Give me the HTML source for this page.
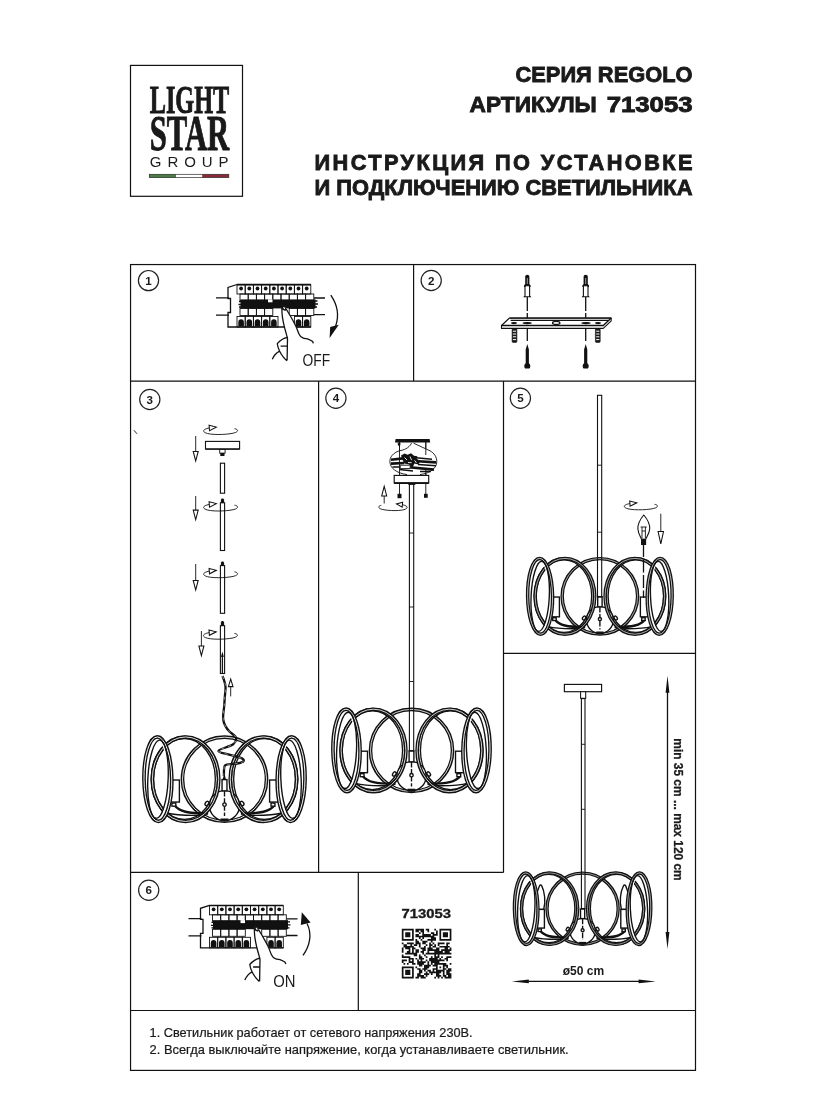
<!DOCTYPE html>
<html lang="ru"><head><meta charset="utf-8"><title>Lightstar Regolo 713053</title>
<style>
html,body{margin:0;padding:0;background:#fff}
svg{display:block}
text{font-family:"Liberation Sans",sans-serif;fill:#1a1a1a;filter:grayscale(1)}
.b{font-weight:bold}
.ln{fill:none;stroke:#111;stroke-width:1.3}
.th{fill:none;stroke:#111;stroke-width:0.9}
.fr{fill:none;stroke:#111;stroke-width:1.2}
.k{fill:#111;stroke:none}
.w{fill:#fff;stroke:#111;stroke-width:1}
</style></head><body>
<svg width="826" height="1100" viewBox="0 0 826 1100">
<rect width="826" height="1100" fill="#fff"/>

<g id="logo">
<rect x="130.5" y="65.4" width="112" height="130.9" fill="#fff" stroke="#111" stroke-width="1.2"/>
<text x="149.7" y="113.2" class="b" style="font-family:'Liberation Serif',serif" font-size="40.8" textLength="79.6" lengthAdjust="spacingAndGlyphs" fill="#111" stroke="#111" stroke-width="0.9">LIGHT</text>
<text x="149.7" y="150.3" class="b" style="font-family:'Liberation Serif',serif" font-size="50.4" textLength="79.6" lengthAdjust="spacingAndGlyphs" fill="#111" stroke="#111" stroke-width="0.9">STAR</text>
<text x="149.8" y="167.2" font-size="15" textLength="78.8" lengthAdjust="spacing" fill="#222">GROUP</text>
<rect x="149.3" y="174.3" width="26.7" height="3.3" fill="#4a7c46"/>
<rect x="176" y="174.3" width="26.2" height="3.3" fill="#fff"/>
<rect x="202.2" y="174.3" width="26.6" height="3.3" fill="#8a2a38"/>
<rect x="149.3" y="174.3" width="79.5" height="3.3" fill="none" stroke="#2a2a2a" stroke-width="0.7"/>
</g>
<g id="head" class="b" font-size="21.8" text-anchor="end">
<text x="692.5" y="81.5" textLength="177" lengthAdjust="spacingAndGlyphs" stroke="#1a1a1a" stroke-width="0.85">СЕРИЯ REGOLO</text>
<text x="596.8" y="111.5" textLength="127.2" lengthAdjust="spacingAndGlyphs" stroke="#1a1a1a" stroke-width="0.85">АРТИКУЛЫ</text>
<text x="692.5" y="111.5" textLength="85.8" lengthAdjust="spacingAndGlyphs" stroke="#1a1a1a" stroke-width="0.85">713053</text>
<text x="692.5" y="169.6" textLength="378" lengthAdjust="spacing" stroke="#1a1a1a" stroke-width="0.85">ИНСТРУКЦИЯ ПО УСТАНОВКЕ</text>
<text x="692.5" y="195.2" textLength="378" lengthAdjust="spacingAndGlyphs" stroke="#1a1a1a" stroke-width="0.85">И ПОДКЛЮЧЕНИЮ СВЕТИЛЬНИКА</text>
</g>
<g id="frame" class="fr">
<rect x="130.55" y="264.55" width="564.95" height="805.8500000000001"/>
<path d="M130.55 381.1H695.5 M413.6 264.55V381.1 M318.6 381.1V872.4 M503.5 381.1V872.4 M130.55 872.4H503.5 M503.5 653.4H695.5 M358.3 872.4V1010.5 M130.55 1010.5H695.5"/>
</g>
<g id="nums">
<circle cx="148.5" cy="280.6" r="10.1" fill="#fff" stroke="#222" stroke-width="1.2"/>
<text x="148.5" y="284.6" class="b" font-size="11.6" text-anchor="middle">1</text>
<circle cx="431.2" cy="280.5" r="10.1" fill="#fff" stroke="#222" stroke-width="1.2"/>
<text x="431.2" y="284.5" class="b" font-size="11.6" text-anchor="middle">2</text>
<circle cx="149.8" cy="399.5" r="10.1" fill="#fff" stroke="#222" stroke-width="1.2"/>
<text x="149.8" y="403.5" class="b" font-size="11.6" text-anchor="middle">3</text>
<circle cx="335.9" cy="398.3" r="10.1" fill="#fff" stroke="#222" stroke-width="1.2"/>
<text x="335.9" y="402.3" class="b" font-size="11.6" text-anchor="middle">4</text>
<circle cx="520.4" cy="398.3" r="10.1" fill="#fff" stroke="#222" stroke-width="1.2"/>
<text x="520.4" y="402.3" class="b" font-size="11.6" text-anchor="middle">5</text>
<circle cx="148.7" cy="890.3" r="10.1" fill="#fff" stroke="#222" stroke-width="1.2"/>
<text x="148.7" y="894.3" class="b" font-size="11.6" text-anchor="middle">6</text>
</g>
<g id="p1">
<g transform="translate(228,284.5)">
<path class="ln" d="M-12 13.3H1 M-12 30.6H1" stroke-width="1.4"/><path class="ln" d="M86 13.5H97 M86 30.2H97" stroke-width="1.9"/>
<path class="ln" d="M9 0H83 M83 42.5H0V28H2.5V14H0V3L9 0"/>
<rect class="th" x="9.0" y="0.5" width="8.2" height="9"/>
<circle class="k" cx="13.1" cy="4.0" r="1.9"/>
<rect class="th" x="17.2" y="0.5" width="8.2" height="9"/>
<circle class="k" cx="21.3" cy="4.0" r="1.9"/>
<rect class="th" x="25.4" y="0.5" width="8.2" height="9"/>
<circle class="k" cx="29.5" cy="4.0" r="1.9"/>
<rect class="th" x="33.6" y="0.5" width="8.2" height="9"/>
<circle class="k" cx="37.7" cy="4.0" r="1.9"/>
<rect class="th" x="41.8" y="0.5" width="8.2" height="9"/>
<circle class="k" cx="45.9" cy="4.0" r="1.9"/>
<rect class="th" x="50.0" y="0.5" width="8.2" height="9"/>
<circle class="k" cx="54.1" cy="4.0" r="1.9"/>
<rect class="th" x="58.2" y="0.5" width="8.2" height="9"/>
<circle class="k" cx="62.3" cy="4.0" r="1.9"/>
<rect class="th" x="66.4" y="0.5" width="8.2" height="9"/>
<circle class="k" cx="70.5" cy="4.0" r="1.9"/>
<rect class="th" x="74.6" y="0.5" width="8.2" height="9"/>
<circle class="k" cx="78.7" cy="4.0" r="1.9"/>
<rect class="th" x="12.0" y="9.5" width="8.2" height="6.5"/>
<rect class="th" x="20.2" y="9.5" width="8.2" height="6.5"/>
<rect class="th" x="28.4" y="9.5" width="8.2" height="6.5"/>
<rect class="th" x="36.6" y="9.5" width="8.2" height="6.5"/>
<rect class="th" x="44.8" y="9.5" width="8.2" height="6.5"/>
<rect class="th" x="53.0" y="9.5" width="8.2" height="6.5"/>
<rect class="th" x="61.2" y="9.5" width="8.2" height="6.5"/>
<rect class="th" x="69.4" y="9.5" width="8.2" height="6.5"/>
<rect class="th" x="77.6" y="9.5" width="8.2" height="6.5"/>
<rect class="k" x="12.5" y="14.9" width="75" height="9"/>
<path class="ln" stroke-width="1" d="M11 17H14 M10.5 20H14 M11 22.5H14 M86 16.5H89.5 M86 19.5H90 M86 22.5H89"/>
<rect class="th" x="12.0" y="24" width="8.2" height="7"/>
<rect class="th" x="20.2" y="24" width="8.2" height="7"/>
<rect class="th" x="28.4" y="24" width="8.2" height="7"/>
<rect class="th" x="36.6" y="24" width="8.2" height="7"/>
<rect class="th" x="61.2" y="24" width="8.2" height="7"/>
<rect class="th" x="69.4" y="24" width="8.2" height="7"/>
<rect class="th" x="77.6" y="24" width="8.2" height="7"/>
<rect class="th" x="9.0" y="32" width="8.2" height="10.5"/>
<path class="k" d="M10.3 42V38a2.8 3.2 0 0 1 5.6 0V42z"/>
<rect class="th" x="17.2" y="32" width="8.2" height="10.5"/>
<path class="k" d="M18.5 42V38a2.8 3.2 0 0 1 5.6 0V42z"/>
<rect class="th" x="25.4" y="32" width="8.2" height="10.5"/>
<path class="k" d="M26.7 42V38a2.8 3.2 0 0 1 5.6 0V42z"/>
<rect class="th" x="33.6" y="32" width="8.2" height="10.5"/>
<path class="k" d="M34.9 42V38a2.8 3.2 0 0 1 5.6 0V42z"/>
<rect class="th" x="41.8" y="32" width="8.2" height="10.5"/>
<path class="k" d="M43.1 42V38a2.8 3.2 0 0 1 5.6 0V42z"/>
<rect class="th" x="66.4" y="32" width="8.2" height="10.5"/>
<path class="k" d="M67.7 42V38a2.8 3.2 0 0 1 5.6 0V42z"/>
<rect class="th" x="74.6" y="32" width="8.2" height="10.5"/>
<path class="k" d="M75.9 42V38a2.8 3.2 0 0 1 5.6 0V42z"/>
<rect x="40" y="14.8" width="4.5" height="3" fill="#fff"/>
<path d="M55.2 21.2 C56.8 21.6 57.6 23 58.2 24.5 L62.4 31.5 L67.5 41 L71.1 49.7 L74.8 53.3 L80.6 54.8 L84.6 57 L85.3 58.8 L59.3 60 L59.5 54 L56.2 41.7 L54.4 32.3 L53.9 23 C53.9 21.6 54.4 21 55.2 21.2z" fill="#fff" stroke="none"/>
<path class="ln" stroke-width="1.15" stroke-linejoin="round" d="M58.2 24.5 C59.5 27 61 29.2 62.4 31.5 C64.2 34.6 66 37.8 67.5 41 C69 44 69.8 47.2 71.1 49.7 C72 51.6 73 52.6 74.8 53.3 C76.6 54 78.8 54.2 80.6 54.8 C82.2 55.4 83.6 56 84.6 57 C85 57.5 85.2 58.2 85.3 58.9 M53.9 23 C53.8 26 54 29.4 54.4 32.3 C54.9 35.6 55.5 38.8 56.2 41.7 C57 45 58 48.2 58.8 51.2 C59.2 52.4 59.4 53.4 59.5 54.2 L59.1 75.9 M59.5 52.8 C57.6 53.2 56 53.8 54.4 54.8 C52.4 56 50.6 57.6 49.3 59.2 C49.6 61.8 50.4 64.2 51.5 66.5 C52.6 68.7 53.8 70.6 55.2 72.3 C56.3 73.7 57.5 75 58.9 76.2 M52.6 61.7 H58.8 M51.2 66.8 C49.6 67.6 48.2 68.8 47.2 70 C46 71.4 45 73 44.3 74.8"/>
<path class="k" d="M53.6 20.6l2.6 0.4 2.4 3.6-1.2 1.8-3.6-1.4z"/>
<ellipse cx="56.2" cy="23.6" rx="0.7" ry="1.3" transform="rotate(-35 56.2 23.6)" fill="#fff"/>
</g>
<path class="ln" stroke-width="1.25" d="M330.8 295.2 C336.8 304 339.6 315 335.6 326.2"/>
<path class="k" d="M329.6 338 L330.2 327 L338.8 324.8z"/>
<text x="302.5" y="365.7" font-size="15.8" textLength="27.6" lengthAdjust="spacingAndGlyphs">OFF</text>
</g>
<g id="p6">
<g transform="translate(200.5,905.3)">
<path class="ln" d="M-12 13.3H1 M-12 30.6H1" stroke-width="1.4"/><path class="ln" d="M86 13.5H97 M86 30.2H97" stroke-width="1.9"/>
<path class="ln" d="M9 0H83 M83 42.5H0V28H2.5V14H0V3L9 0"/>
<rect class="th" x="9.0" y="0.5" width="8.2" height="9"/>
<circle class="k" cx="13.1" cy="4.0" r="1.9"/>
<rect class="th" x="17.2" y="0.5" width="8.2" height="9"/>
<circle class="k" cx="21.3" cy="4.0" r="1.9"/>
<rect class="th" x="25.4" y="0.5" width="8.2" height="9"/>
<circle class="k" cx="29.5" cy="4.0" r="1.9"/>
<rect class="th" x="33.6" y="0.5" width="8.2" height="9"/>
<circle class="k" cx="37.7" cy="4.0" r="1.9"/>
<rect class="th" x="41.8" y="0.5" width="8.2" height="9"/>
<circle class="k" cx="45.9" cy="4.0" r="1.9"/>
<rect class="th" x="50.0" y="0.5" width="8.2" height="9"/>
<circle class="k" cx="54.1" cy="4.0" r="1.9"/>
<rect class="th" x="58.2" y="0.5" width="8.2" height="9"/>
<circle class="k" cx="62.3" cy="4.0" r="1.9"/>
<rect class="th" x="66.4" y="0.5" width="8.2" height="9"/>
<circle class="k" cx="70.5" cy="4.0" r="1.9"/>
<rect class="th" x="74.6" y="0.5" width="8.2" height="9"/>
<circle class="k" cx="78.7" cy="4.0" r="1.9"/>
<rect class="th" x="12.0" y="9.5" width="8.2" height="6.5"/>
<rect class="th" x="20.2" y="9.5" width="8.2" height="6.5"/>
<rect class="th" x="28.4" y="9.5" width="8.2" height="6.5"/>
<rect class="th" x="36.6" y="9.5" width="8.2" height="6.5"/>
<rect class="th" x="44.8" y="9.5" width="8.2" height="6.5"/>
<rect class="th" x="53.0" y="9.5" width="8.2" height="6.5"/>
<rect class="th" x="61.2" y="9.5" width="8.2" height="6.5"/>
<rect class="th" x="69.4" y="9.5" width="8.2" height="6.5"/>
<rect class="th" x="77.6" y="9.5" width="8.2" height="6.5"/>
<rect class="k" x="12.5" y="14.9" width="75" height="9"/>
<path class="ln" stroke-width="1" d="M11 17H14 M10.5 20H14 M11 22.5H14 M86 16.5H89.5 M86 19.5H90 M86 22.5H89"/>
<rect class="th" x="12.0" y="24" width="8.2" height="7"/>
<rect class="th" x="20.2" y="24" width="8.2" height="7"/>
<rect class="th" x="28.4" y="24" width="8.2" height="7"/>
<rect class="th" x="36.6" y="24" width="8.2" height="7"/>
<rect class="th" x="61.2" y="24" width="8.2" height="7"/>
<rect class="th" x="69.4" y="24" width="8.2" height="7"/>
<rect class="th" x="77.6" y="24" width="8.2" height="7"/>
<rect class="th" x="9.0" y="32" width="8.2" height="10.5"/>
<path class="k" d="M10.3 42V38a2.8 3.2 0 0 1 5.6 0V42z"/>
<rect class="th" x="17.2" y="32" width="8.2" height="10.5"/>
<path class="k" d="M18.5 42V38a2.8 3.2 0 0 1 5.6 0V42z"/>
<rect class="th" x="25.4" y="32" width="8.2" height="10.5"/>
<path class="k" d="M26.7 42V38a2.8 3.2 0 0 1 5.6 0V42z"/>
<rect class="th" x="33.6" y="32" width="8.2" height="10.5"/>
<path class="k" d="M34.9 42V38a2.8 3.2 0 0 1 5.6 0V42z"/>
<rect class="th" x="41.8" y="32" width="8.2" height="10.5"/>
<path class="k" d="M43.1 42V38a2.8 3.2 0 0 1 5.6 0V42z"/>
<rect class="th" x="66.4" y="32" width="8.2" height="10.5"/>
<path class="k" d="M67.7 42V38a2.8 3.2 0 0 1 5.6 0V42z"/>
<rect class="th" x="74.6" y="32" width="8.2" height="10.5"/>
<path class="k" d="M75.9 42V38a2.8 3.2 0 0 1 5.6 0V42z"/>
<rect x="40" y="14.8" width="4.5" height="3" fill="#fff"/>
<path d="M55.2 21.2 C56.8 21.6 57.6 23 58.2 24.5 L62.4 31.5 L67.5 41 L71.1 49.7 L74.8 53.3 L80.6 54.8 L84.6 57 L85.3 58.8 L59.3 60 L59.5 54 L56.2 41.7 L54.4 32.3 L53.9 23 C53.9 21.6 54.4 21 55.2 21.2z" fill="#fff" stroke="none"/>
<path class="ln" stroke-width="1.15" stroke-linejoin="round" d="M58.2 24.5 C59.5 27 61 29.2 62.4 31.5 C64.2 34.6 66 37.8 67.5 41 C69 44 69.8 47.2 71.1 49.7 C72 51.6 73 52.6 74.8 53.3 C76.6 54 78.8 54.2 80.6 54.8 C82.2 55.4 83.6 56 84.6 57 C85 57.5 85.2 58.2 85.3 58.9 M53.9 23 C53.8 26 54 29.4 54.4 32.3 C54.9 35.6 55.5 38.8 56.2 41.7 C57 45 58 48.2 58.8 51.2 C59.2 52.4 59.4 53.4 59.5 54.2 L59.1 75.9 M59.5 52.8 C57.6 53.2 56 53.8 54.4 54.8 C52.4 56 50.6 57.6 49.3 59.2 C49.6 61.8 50.4 64.2 51.5 66.5 C52.6 68.7 53.8 70.6 55.2 72.3 C56.3 73.7 57.5 75 58.9 76.2 M52.6 61.7 H58.8 M51.2 66.8 C49.6 67.6 48.2 68.8 47.2 70 C46 71.4 45 73 44.3 74.8"/>
<path class="k" d="M53.6 20.6l2.6 0.4 2.4 3.6-1.2 1.8-3.6-1.4z"/>
<ellipse cx="56.2" cy="23.6" rx="0.7" ry="1.3" transform="rotate(-35 56.2 23.6)" fill="#fff"/>
</g>
<path class="ln" stroke-width="1.25" d="M303 955.4 C309.8 946 312.4 934 307 923.5"/>
<path class="k" d="M301.8 912.3 L300.8 925 L310.6 922.4z"/>
<text x="273.3" y="986.8" font-size="15.8" textLength="22.3" lengthAdjust="spacingAndGlyphs">ON</text>
</g>
<g id="p2">
<path class="ln" stroke-width="1.1" stroke-dasharray="14 2" d="M527.3 297V341"/>
<path class="ln" stroke-width="1.1" stroke-dasharray="14 2" d="M585.7 297V341"/>
<path d="M509.5 318H611.2V320.9L603.3 328.4H501.5V325.5z" fill="#fff" stroke="#111" stroke-width="1.1" stroke-linejoin="round"/>
<path class="ln" stroke-width="2" d="M509.8 318.2H611.2"/>
<path class="ln" stroke-width="1" d="M510.6 320.4H608.6 M501.5 325.5H603.3L611.2 318"/>
<ellipse class="k" cx="514" cy="323.1" rx="3.1" ry="1.15"/>
<ellipse class="k" cx="527.2" cy="323.1" rx="4.7" ry="1.15"/>
<ellipse class="k" cx="586" cy="323.1" rx="4.7" ry="1.15"/>
<ellipse class="k" cx="598" cy="323.1" rx="3.1" ry="1.15"/>
<ellipse cx="556.2" cy="322.9" rx="3.7" ry="1.5" fill="#fff" stroke="#111" stroke-width="1.3"/>
<rect x="512.1" y="328.8" width="4.8" height="13.6" rx="1" fill="#1a1a1a" stroke="#111" stroke-width="0.6"/>
<path stroke="#fff" stroke-width="1" fill="none" d="M512.9 331.2h3.2 M512.9 334h3.2 M512.9 336.8h3.2 M512.9 339.6h3.2"/>
<rect x="595.4" y="328.8" width="4.8" height="13.6" rx="1" fill="#1a1a1a" stroke="#111" stroke-width="0.6"/>
<path stroke="#fff" stroke-width="1" fill="none" d="M596.1999999999999 331.2h3.2 M596.1999999999999 334h3.2 M596.1999999999999 336.8h3.2 M596.1999999999999 339.6h3.2"/>
<path d="M525.0 285.8v10l-0.7 0.9h6l-0.7 -0.9v-10z" fill="#fff" stroke="#111" stroke-width="1.1"/>
<path class="k" d="M525.1999999999999 276.4a2.1 1.6 0 0 1 4.2 0v7.6l1.2 1.4v1.6h-1.4v-1.2h-3.8v1.2h-1.4v-1.6l1.2-1.4z"/>
<path stroke="#fff" stroke-width="0.6" fill="none" d="M527.3 278v6"/>
<path class="k" d="M527.3 344L528.9 349.5V363.2C530.5999999999999 364 530.8 367.4 529.5 368.5H525.0999999999999C523.8 367.4 524.0 364 525.6999999999999 363.2V349.5z"/>
<path d="M583.4000000000001 285.8v10l-0.7 0.9h6l-0.7 -0.9v-10z" fill="#fff" stroke="#111" stroke-width="1.1"/>
<path class="k" d="M583.6 276.4a2.1 1.6 0 0 1 4.2 0v7.6l1.2 1.4v1.6h-1.4v-1.2h-3.8v1.2h-1.4v-1.6l1.2-1.4z"/>
<path stroke="#fff" stroke-width="0.6" fill="none" d="M585.7 278v6"/>
<path class="k" d="M585.7 344L587.3000000000001 349.5V363.2C589.0 364 589.2 367.4 587.9000000000001 368.5H583.5C582.2 367.4 582.4000000000001 364 584.1 363.2V349.5z"/>
</g>
<g id="p3">
<path class="th" stroke-width="1.3" d="M133.9 430.2L137 433.8"/>
<g transform="translate(220.5,430.5) scale(1,1)">
<path class="th" stroke-width="1.3" d="M14.0 -1.8 C17.2 -1.4 18.4 0.6 15.0 2.0 C10.0 4.0 -6.0 4.8 -13.0 3.0 C-18.5 1.6 -18.5 -1.2 -11.0 -2.6"/>
<path d="M-11.4 -5.2 L-4.2 -3.4 L-11.0 0.1z" fill="#fff" stroke="#111" stroke-width="1.05"/>
</g>
<rect x="205.5" y="441.4" width="34.1" height="7.6" fill="#fff" stroke="#111" stroke-width="1.1"/>
<path class="ln" stroke-width="1.6" d="M205.5 449.2h34.1"/>
<rect x="219.7" y="449.5" width="5.4" height="3.6" fill="#fff" stroke="#111" stroke-width="0.9"/>
<rect class="k" x="220.3" y="453" width="4.2" height="3"/>
<path class="th" stroke-width="1.1" d="M195.7 436V452.4"/>
<path d="M193.2 451.4h5.0L195.7 461z" fill="#fff" stroke="#111" stroke-width="1.05"/>
<rect x="220.4" y="463.2" width="4.2" height="30.0" fill="#fff" stroke="#111" stroke-width="1.1"/>
<rect x="220.4" y="502.8" width="4.2" height="47.69999999999999" fill="#fff" stroke="#111" stroke-width="1.1"/>
<path class="k" d="M220.9 503v-3.2l0.8-1.4h1.6l0.8 1.4v3.2z"/>
<g transform="translate(220.5,507) scale(1,1)">
<path class="th" stroke-width="1.3" d="M14.0 -1.8 C17.2 -1.4 18.4 0.6 15.0 2.0 C10.0 4.0 -6.0 4.8 -13.0 3.0 C-18.5 1.6 -18.5 -1.2 -11.0 -2.6"/>
<path d="M-11.4 -5.2 L-4.2 -3.4 L-11.0 0.1z" fill="#fff" stroke="#111" stroke-width="1.05"/>
</g>
<path class="th" stroke-width="1.1" d="M195.7 496V511.1"/>
<path d="M193.2 510.1h5.0L195.7 519.7z" fill="#fff" stroke="#111" stroke-width="1.05"/>
<rect x="220.4" y="565.6" width="4.2" height="47.69999999999993" fill="#fff" stroke="#111" stroke-width="1.1"/>
<path class="k" d="M220.9 566v-3.2l0.8-1.4h1.6l0.8 1.4v3.2z"/>
<g transform="translate(220.5,573.7) scale(1,1)">
<path class="th" stroke-width="1.3" d="M14.0 -1.8 C17.2 -1.4 18.4 0.6 15.0 2.0 C10.0 4.0 -6.0 4.8 -13.0 3.0 C-18.5 1.6 -18.5 -1.2 -11.0 -2.6"/>
<path d="M-11.4 -5.2 L-4.2 -3.4 L-11.0 0.1z" fill="#fff" stroke="#111" stroke-width="1.05"/>
</g>
<path class="th" stroke-width="1.1" d="M195.7 564V581.4"/>
<path d="M193.2 580.4h5.0L195.7 590z" fill="#fff" stroke="#111" stroke-width="1.05"/>
<rect x="220.4" y="625.7" width="4.2" height="47.799999999999955" fill="#fff" stroke="#111" stroke-width="1.1"/>
<path class="k" d="M220.9 626v-3.4l0.8-1.6h1.6l0.8 1.6v3.4z"/>
<path class="ln" stroke-width="1.1" d="M222.4 655V673 M221.6 657l0.8-3 0.8 3"/>
<g transform="translate(220.4,635.2) scale(1,1)">
<path class="th" stroke-width="1.3" d="M14.0 -1.8 C17.2 -1.4 18.4 0.6 15.0 2.0 C10.0 4.0 -6.0 4.8 -13.0 3.0 C-18.5 1.6 -18.5 -1.2 -11.0 -2.6"/>
<path d="M-11.4 -5.2 L-4.2 -3.4 L-11.0 0.1z" fill="#fff" stroke="#111" stroke-width="1.05"/>
</g>
<path class="th" stroke-width="1.1" d="M201.4 631V647.0"/>
<path d="M198.9 646.0h5.0L201.4 655.6z" fill="#fff" stroke="#111" stroke-width="1.05"/>
<path class="th" stroke-width="1.1" d="M230.7 696.4V685.6"/>
<path d="M228.39999999999998 686.6h4.6L230.7 679z" fill="#fff" stroke="#111" stroke-width="1.05"/>
<g transform="translate(224.5,779.2) scale(1.025)" fill="none">
<ellipse cx="0" cy="0" rx="41" ry="41" stroke="#111" stroke-width="3.55"/>
<ellipse cx="0" cy="0" rx="41" ry="41" stroke="#fff" stroke-width="0.85"/>
<ellipse cx="-39.1" cy="-0.2" rx="31.3" ry="40.6" stroke="#111" stroke-width="3.55"/>
<ellipse cx="-39.1" cy="-0.2" rx="31.3" ry="40.6" stroke="#fff" stroke-width="0.85"/>
<ellipse cx="39.1" cy="-0.2" rx="31.3" ry="40.6" stroke="#111" stroke-width="3.55"/>
<ellipse cx="39.1" cy="-0.2" rx="31.3" ry="40.6" stroke="#fff" stroke-width="0.85"/>
<g stroke="#111" stroke-width="1.35" fill="#fff">
<circle cx="0" cy="25.8" r="14.6"/>
<rect x="-2.4" y="0.4" width="4.8" height="11"/>
<path d="M0 11.5V36" stroke-dasharray="5.4 1.6" fill="none"/>
<circle cx="0" cy="24.8" r="1.7"/>
<rect x="-3.2" y="39" width="6.4" height="1.6" fill="#111"/>
</g>
<path d="M-48.8 25.5 C-44 31.5 -36 33.6 -16 33.4" stroke="#111" stroke-width="2.34"/>
<path d="M-56 33 C-48 35.2 -38 35.6 -22 35.2" stroke="#111" stroke-width="1.35"/>
<path d="M48.8 25.5 C44 31.5 36 33.6 16 33.4" stroke="#111" stroke-width="2.34"/>
<path d="M56 33 C48 35.2 38 35.6 22 35.2" stroke="#111" stroke-width="1.35"/>
<g stroke="#111" stroke-width="1.35" fill="#fff">
<rect x="-52.7" y="0.8" width="8.7" height="21.5"/>
<rect x="-51.300000000000004" y="23.3" width="3.8" height="3"/>
<rect x="44" y="0.8" width="8.7" height="21.5"/>
<rect x="45.4" y="23.3" width="3.8" height="3"/>
</g>
<ellipse cx="-38" cy="0" rx="32.4" ry="41.2" stroke="#111" stroke-width="3.55"/>
<ellipse cx="-38" cy="0" rx="32.4" ry="41.2" stroke="#fff" stroke-width="0.85"/>
<ellipse cx="-17.2" cy="23.6" rx="1.5" ry="2.3" transform="rotate(35 -17.2 23.6)" fill="#fff" stroke="#111" stroke-width="1.35"/>
<ellipse cx="38" cy="0" rx="32.4" ry="41.2" stroke="#111" stroke-width="3.55"/>
<ellipse cx="38" cy="0" rx="32.4" ry="41.2" stroke="#fff" stroke-width="0.85"/>
<ellipse cx="17.2" cy="23.6" rx="1.5" ry="2.3" transform="rotate(-35 17.2 23.6)" fill="#fff" stroke="#111" stroke-width="1.35"/>
<ellipse cx="-65" cy="0" rx="11.6" ry="39.6" stroke="#fff" stroke-width="4"/>
<ellipse cx="-65" cy="0" rx="13.55" ry="41.2" transform="rotate(-0.8 -65 0)" stroke="#111" stroke-width="3.65"/>
<ellipse cx="-65" cy="0" rx="13.55" ry="41.2" transform="rotate(-0.8 -65 0)" stroke="#fff" stroke-width="0.95"/>
<ellipse cx="-64.9" cy="0" rx="9.9" ry="38.2" transform="rotate(2.6 -64.9 0)" stroke="#111" stroke-width="1.35"/>
<ellipse cx="65" cy="0" rx="11.6" ry="39.6" stroke="#fff" stroke-width="4"/>
<ellipse cx="65" cy="0" rx="13.55" ry="41.2" transform="rotate(0.8 65 0)" stroke="#111" stroke-width="3.65"/>
<ellipse cx="65" cy="0" rx="13.55" ry="41.2" transform="rotate(0.8 65 0)" stroke="#fff" stroke-width="0.95"/>
<ellipse cx="64.9" cy="0" rx="9.9" ry="38.2" transform="rotate(-2.6 64.9 0)" stroke="#111" stroke-width="1.35"/>
</g>
<path d="M222.5 676 C224.5 681 226 685 225.5 689 C225 695 224.5 700 224.3 705 C224 710 222.6 715 223.2 719.5 C224 725 226.5 728.5 229.5 731.5 C232.5 734.5 236.5 736 236.2 739 C236 741.5 235 743 233.2 744.3 C229 747.2 218.5 749 218.4 751 C218.4 752.6 224 753.3 229 754.6 C235 756.2 244 758 243.8 760.5 C243.6 762.2 240.5 763 237.3 763.5 C233 764.2 226.5 763.6 225 765.4 C223.6 767 224 772 223.9 776" fill="none" stroke="#111" stroke-width="2.3" stroke-linejoin="round"/>
<path d="M222.5 676 C224.5 681 226 685 225.5 689 C225 695 224.5 700 224.3 705 C224 710 222.6 715 223.2 719.5 C224 725 226.5 728.5 229.5 731.5 C232.5 734.5 236.5 736 236.2 739 C236 741.5 235 743 233.2 744.3 C229 747.2 218.5 749 218.4 751 C218.4 752.6 224 753.3 229 754.6 C235 756.2 244 758 243.8 760.5 C243.6 762.2 240.5 763 237.3 763.5 C233 764.2 226.5 763.6 225 765.4 C223.6 767 224 772 223.9 776" fill="none" stroke="#fff" stroke-width="0.5" stroke-dasharray="3 4"/>
<path class="k" d="M222.6 779.4l1.7-6 1.7 6z"/>
</g>
<g id="p4">
<g transform="translate(411.5,750.4) scale(1.0)" fill="none">
<ellipse cx="0" cy="0" rx="41" ry="41" stroke="#111" stroke-width="3.58"/>
<ellipse cx="0" cy="0" rx="41" ry="41" stroke="#fff" stroke-width="0.82"/>
<ellipse cx="-39.1" cy="-0.2" rx="31.3" ry="40.6" stroke="#111" stroke-width="3.58"/>
<ellipse cx="-39.1" cy="-0.2" rx="31.3" ry="40.6" stroke="#fff" stroke-width="0.82"/>
<ellipse cx="39.1" cy="-0.2" rx="31.3" ry="40.6" stroke="#111" stroke-width="3.58"/>
<ellipse cx="39.1" cy="-0.2" rx="31.3" ry="40.6" stroke="#fff" stroke-width="0.82"/>
<g stroke="#111" stroke-width="1.38" fill="#fff">
<circle cx="0" cy="25.8" r="14.6"/>
<rect x="-2.4" y="0.4" width="4.8" height="11"/>
<path d="M0 11.5V36" stroke-dasharray="5.5 1.6" fill="none"/>
<circle cx="0" cy="24.8" r="1.7"/>
<rect x="-3.2" y="39" width="6.4" height="1.6" fill="#111"/>
</g>
<path d="M-48.8 25.5 C-44 31.5 -36 33.6 -16 33.4" stroke="#111" stroke-width="2.40"/>
<path d="M-56 33 C-48 35.2 -38 35.6 -22 35.2" stroke="#111" stroke-width="1.38"/>
<path d="M48.8 25.5 C44 31.5 36 33.6 16 33.4" stroke="#111" stroke-width="2.40"/>
<path d="M56 33 C48 35.2 38 35.6 22 35.2" stroke="#111" stroke-width="1.38"/>
<g stroke="#111" stroke-width="1.38" fill="#fff">
<rect x="-52.7" y="0.8" width="8.7" height="21.5"/>
<rect x="-51.300000000000004" y="23.3" width="3.8" height="3"/>
<rect x="44" y="0.8" width="8.7" height="21.5"/>
<rect x="45.4" y="23.3" width="3.8" height="3"/>
</g>
<ellipse cx="-38" cy="0" rx="32.4" ry="41.2" stroke="#111" stroke-width="3.58"/>
<ellipse cx="-38" cy="0" rx="32.4" ry="41.2" stroke="#fff" stroke-width="0.82"/>
<ellipse cx="-17.2" cy="23.6" rx="1.5" ry="2.3" transform="rotate(35 -17.2 23.6)" fill="#fff" stroke="#111" stroke-width="1.38"/>
<ellipse cx="38" cy="0" rx="32.4" ry="41.2" stroke="#111" stroke-width="3.58"/>
<ellipse cx="38" cy="0" rx="32.4" ry="41.2" stroke="#fff" stroke-width="0.82"/>
<ellipse cx="17.2" cy="23.6" rx="1.5" ry="2.3" transform="rotate(-35 17.2 23.6)" fill="#fff" stroke="#111" stroke-width="1.38"/>
<ellipse cx="-65" cy="0" rx="11.6" ry="39.6" stroke="#fff" stroke-width="4"/>
<ellipse cx="-65" cy="0" rx="13.55" ry="41.2" transform="rotate(-0.8 -65 0)" stroke="#111" stroke-width="3.68"/>
<ellipse cx="-65" cy="0" rx="13.55" ry="41.2" transform="rotate(-0.8 -65 0)" stroke="#fff" stroke-width="0.92"/>
<ellipse cx="-64.9" cy="0" rx="9.9" ry="38.2" transform="rotate(2.6 -64.9 0)" stroke="#111" stroke-width="1.38"/>
<ellipse cx="65" cy="0" rx="11.6" ry="39.6" stroke="#fff" stroke-width="4"/>
<ellipse cx="65" cy="0" rx="13.55" ry="41.2" transform="rotate(0.8 65 0)" stroke="#111" stroke-width="3.68"/>
<ellipse cx="65" cy="0" rx="13.55" ry="41.2" transform="rotate(0.8 65 0)" stroke="#fff" stroke-width="0.92"/>
<ellipse cx="64.9" cy="0" rx="9.9" ry="38.2" transform="rotate(-2.6 64.9 0)" stroke="#111" stroke-width="1.38"/>
</g>
<rect x="409.40000000000003" y="483.5" width="4.3" height="267.5" fill="none" stroke="#111" stroke-width="1.1"/>
<path class="th" d="M409.40000000000003 533h4.3"/>
<path class="th" d="M409.40000000000003 607h4.3"/>
<path class="th" d="M409.40000000000003 681.5h4.3"/>
<path class="th" stroke-width="1.1" d="M399.5 442V494 M425.8 442V494"/>
<path d="M399.3 450.8 C393 453 389.6 457 389.9 462 C390.2 468 396 473 407 474.6 L420 474.6 C431 473 436.5 468 436.8 462 C437 457 434 453 430 450.8 L413.6 443.2 L411.6 443.2 C408.5 448.5 404 450 399.3 450.8z" fill="#fff" stroke="none"/>
<path class="th" stroke-width="1.1" d="M399.3 450.8 C393 453 389.6 457 389.9 462 C390.2 468 396 473 407 474.6 M420 474.6 C431 473 436.5 468 436.8 462 C437 457 434 453 430 450.8 L413.6 443.2 M411.6 443.2 C408.5 448.5 404 450 399.3 450.8"/>
<path class="th" stroke-width="1.1" d="M399.5 442V474 M425.8 442V455 M425.8 470V475"/>
<path d="M395.6 439l-0.6 3.6h35.2l-0.6-3.6z" class="k"/>
<rect class="k" x="397.8" y="442.4" width="2.6" height="3.4" rx="1"/>
<path fill="none" stroke="#111" stroke-width="2.6" d="M391 459.8L403 458.4 M391 463.6L404 463 M418 461.2L436 462.4 M404 466.8L434 469.6"/>
<path fill="none" stroke="#111" stroke-width="1.5" d="M392.5 467L401 467 M418 464.6L436 465.8 M399.5 469.5L413 471 M416 457.8L432 459.2 M420 471.6L431 471.6"/>
<path class="k" d="M401 455.6l3.6-2.2 3 1.4 3.4-1.6 3 2.6 3.4 0.4-0.8 2.6 3.8 2.2-2 3.4-4-0.8-2.2 4.6-3-3.8-5 -0.8-1.8-4z"/>
<path d="M404.5 457.5l2.5 2.5 M410 456.5l1.6 3.6 M408 462.5l3.6 0.2 M414.6 460.4l1.8 2.4" stroke="#fff" stroke-width="0.9" fill="none"/>
<path d="M400.2 465.2h10v3.4h-10z" fill="#fff" stroke="#111" stroke-width="0.9"/>
<rect x="394.2" y="475.4" width="34.5" height="7.6" fill="#fff" stroke="#111" stroke-width="1.15"/>
<path d="M394.2 483.2h34.5" stroke="#111" stroke-width="1.8" fill="none"/>
<rect class="k" x="408.3" y="483.4" width="7" height="1.5"/>
<rect class="k" x="397.5" y="493.8" width="4" height="4.4"/><rect class="k" x="424" y="493.8" width="3.7" height="4"/>
<path class="th" stroke-width="1.1" d="M384.2 503.5V494.90000000000003"/>
<path d="M381.7 495.90000000000003h5.0L384.2 486.3z" fill="#fff" stroke="#111" stroke-width="1.05"/>
<g transform="translate(393,507) scale(-1,1)">
<path class="th" stroke-width="1.3" d="M11.7 -1.6 C14.4 -1.3 15.4 0.5 12.6 1.8 C8.4 3.6 -5.0 4.3 -10.9 2.7 C-15.5 1.4 -15.5 -1.1 -9.2 -2.3"/>
<path d="M-9.6 -4.7 L-3.5 -3.1 L-9.2 0.1z" fill="#fff" stroke="#111" stroke-width="1.05"/>
</g>
</g>
<g id="p5">
<g transform="translate(599.9,596.3) scale(0.92)" fill="none">
<ellipse cx="0" cy="0" rx="41" ry="41" stroke="#111" stroke-width="3.70"/>
<ellipse cx="0" cy="0" rx="41" ry="41" stroke="#fff" stroke-width="0.70"/>
<ellipse cx="-39.1" cy="-0.2" rx="31.3" ry="40.6" stroke="#111" stroke-width="3.70"/>
<ellipse cx="-39.1" cy="-0.2" rx="31.3" ry="40.6" stroke="#fff" stroke-width="0.70"/>
<ellipse cx="39.1" cy="-0.2" rx="31.3" ry="40.6" stroke="#111" stroke-width="3.70"/>
<ellipse cx="39.1" cy="-0.2" rx="31.3" ry="40.6" stroke="#fff" stroke-width="0.70"/>
<g stroke="#111" stroke-width="1.50" fill="#fff">
<circle cx="0" cy="25.8" r="14.6"/>
<rect x="-2.4" y="0.4" width="4.8" height="11"/>
<path d="M0 11.5V36" stroke-dasharray="6.0 1.7" fill="none"/>
<circle cx="0" cy="24.8" r="1.7"/>
<rect x="-3.2" y="39" width="6.4" height="1.6" fill="#111"/>
</g>
<path d="M-48.8 25.5 C-44 31.5 -36 33.6 -16 33.4" stroke="#111" stroke-width="2.61"/>
<path d="M-56 33 C-48 35.2 -38 35.6 -22 35.2" stroke="#111" stroke-width="1.50"/>
<path d="M48.8 25.5 C44 31.5 36 33.6 16 33.4" stroke="#111" stroke-width="2.61"/>
<path d="M56 33 C48 35.2 38 35.6 22 35.2" stroke="#111" stroke-width="1.50"/>
<g stroke="#111" stroke-width="1.50" fill="#fff">
<rect x="-52.7" y="0.8" width="8.7" height="21.5"/>
<rect x="-51.300000000000004" y="23.3" width="3.8" height="3"/>
<rect x="44" y="0.8" width="8.7" height="21.5"/>
<rect x="45.4" y="23.3" width="3.8" height="3"/>
</g>
<ellipse cx="-38" cy="0" rx="32.4" ry="41.2" stroke="#111" stroke-width="3.70"/>
<ellipse cx="-38" cy="0" rx="32.4" ry="41.2" stroke="#fff" stroke-width="0.70"/>
<ellipse cx="-17.2" cy="23.6" rx="1.5" ry="2.3" transform="rotate(35 -17.2 23.6)" fill="#fff" stroke="#111" stroke-width="1.50"/>
<ellipse cx="38" cy="0" rx="32.4" ry="41.2" stroke="#111" stroke-width="3.70"/>
<ellipse cx="38" cy="0" rx="32.4" ry="41.2" stroke="#fff" stroke-width="0.70"/>
<ellipse cx="17.2" cy="23.6" rx="1.5" ry="2.3" transform="rotate(-35 17.2 23.6)" fill="#fff" stroke="#111" stroke-width="1.50"/>
<ellipse cx="-65" cy="0" rx="11.6" ry="39.6" stroke="#fff" stroke-width="4"/>
<ellipse cx="-65" cy="0" rx="13.55" ry="41.2" transform="rotate(-0.8 -65 0)" stroke="#111" stroke-width="3.80"/>
<ellipse cx="-65" cy="0" rx="13.55" ry="41.2" transform="rotate(-0.8 -65 0)" stroke="#fff" stroke-width="0.80"/>
<ellipse cx="-64.9" cy="0" rx="9.9" ry="38.2" transform="rotate(2.6 -64.9 0)" stroke="#111" stroke-width="1.50"/>
<ellipse cx="65" cy="0" rx="11.6" ry="39.6" stroke="#fff" stroke-width="4"/>
<ellipse cx="65" cy="0" rx="13.55" ry="41.2" transform="rotate(0.8 65 0)" stroke="#111" stroke-width="3.80"/>
<ellipse cx="65" cy="0" rx="13.55" ry="41.2" transform="rotate(0.8 65 0)" stroke="#fff" stroke-width="0.80"/>
<ellipse cx="64.9" cy="0" rx="9.9" ry="38.2" transform="rotate(-2.6 64.9 0)" stroke="#111" stroke-width="1.50"/>
</g>
<rect x="597.5" y="395.3" width="4.2" height="201.7" fill="none" stroke="#111" stroke-width="1.1"/>
<path class="th" d="M597.5 465.2h4.2"/>
<path class="th" d="M597.5 532.2h4.2"/>
<path class="ln" stroke-width="1.1" stroke-dasharray="13 2.5" d="M643.5 544V598"/>
<path d="M643.8 515 C640.8 518.5 637.6 524.5 637.9 529 C638.2 533.5 640.6 537 641.6 539.5 L641.6 544.4 L645.6 544.4 L645.6 539.5 C646.6 537 649.4 533.5 649.7 529 C650 524.5 646.8 518.5 643.8 515z" fill="#fff" stroke="#111" stroke-width="1.1"/>
<rect class="k" x="641.4" y="538.6" width="4.4" height="6.2"/>
<path class="th" stroke-width="1.1" d="M640.6 527h6.2 M642 527v11 M645.4 527v11 M642 531h3.4"/>
<g transform="translate(640.8,506) scale(1,1)">
<path class="th" stroke-width="1.3" d="M13.7 -1.7 C16.8 -1.3 18.0 0.6 14.7 1.9 C9.8 3.8 -5.9 4.6 -12.7 2.8 C-18.1 1.5 -18.1 -1.1 -10.7 -2.5"/>
<path d="M-11.1 -4.9 L-4.1 -3.2 L-10.7 0.1z" fill="#fff" stroke="#111" stroke-width="1.05"/>
</g>
<path class="th" stroke-width="1.1" d="M660.8 513.7V532.5"/>
<path d="M658.0999999999999 531.5h5.4L660.8 543.8z" fill="#fff" stroke="#111" stroke-width="1.05"/>
</g>
<g id="p5b">
<rect x="564.4" y="684.4" width="37.2" height="7.3" fill="#fff" stroke="#111" stroke-width="1.15"/>
<rect x="580.6" y="691.7" width="5.1" height="6.6" fill="#fff" stroke="#111" stroke-width="1.05"/>
<g transform="translate(582.6,908.7) scale(0.868)" fill="none">
<ellipse cx="0" cy="0" rx="41" ry="41" stroke="#111" stroke-width="3.79"/>
<ellipse cx="0" cy="0" rx="41" ry="41" stroke="#fff" stroke-width="0.61"/>
<ellipse cx="-39.1" cy="-0.2" rx="31.3" ry="40.6" stroke="#111" stroke-width="3.79"/>
<ellipse cx="-39.1" cy="-0.2" rx="31.3" ry="40.6" stroke="#fff" stroke-width="0.61"/>
<ellipse cx="39.1" cy="-0.2" rx="31.3" ry="40.6" stroke="#111" stroke-width="3.79"/>
<ellipse cx="39.1" cy="-0.2" rx="31.3" ry="40.6" stroke="#fff" stroke-width="0.61"/>
<g stroke="#111" stroke-width="1.59" fill="#fff">
<circle cx="0" cy="25.8" r="14.6"/>
<rect x="-2.4" y="0.4" width="4.8" height="11"/>
<path d="M0 11.5V36" stroke-dasharray="6.3 1.8" fill="none"/>
<circle cx="0" cy="24.8" r="1.7"/>
<rect x="-3.2" y="39" width="6.4" height="1.6" fill="#111"/>
</g>
<path d="M-48.8 25.5 C-44 31.5 -36 33.6 -16 33.4" stroke="#111" stroke-width="2.76"/>
<path d="M-56 33 C-48 35.2 -38 35.6 -22 35.2" stroke="#111" stroke-width="1.59"/>
<path d="M48.8 25.5 C44 31.5 36 33.6 16 33.4" stroke="#111" stroke-width="2.76"/>
<path d="M56 33 C48 35.2 38 35.6 22 35.2" stroke="#111" stroke-width="1.59"/>
<g stroke="#111" stroke-width="1.59" fill="#fff">
<path d="M-52.00000000000001 0.8 C-54.60000000000001 -8 -53.00000000000001 -20 -49.60000000000001 -26.5 C-49.00000000000001 -27.6 -47.800000000000004 -27.6 -47.2 -26.5 C-43.800000000000004 -20 -42.2 -8 -44.800000000000004 0.8z"/>
<rect x="-52.7" y="0.8" width="8.7" height="21.5"/>
<rect x="-51.300000000000004" y="23.3" width="3.8" height="3"/>
<path d="M44.699999999999996 0.8 C42.099999999999994 -8 43.699999999999996 -20 47.099999999999994 -26.5 C47.699999999999996 -27.6 48.9 -27.6 49.5 -26.5 C52.9 -20 54.5 -8 51.9 0.8z"/>
<rect x="44" y="0.8" width="8.7" height="21.5"/>
<rect x="45.4" y="23.3" width="3.8" height="3"/>
</g>
<ellipse cx="-38" cy="0" rx="32.4" ry="41.2" stroke="#111" stroke-width="3.79"/>
<ellipse cx="-38" cy="0" rx="32.4" ry="41.2" stroke="#fff" stroke-width="0.61"/>
<ellipse cx="-17.2" cy="23.6" rx="1.5" ry="2.3" transform="rotate(35 -17.2 23.6)" fill="#fff" stroke="#111" stroke-width="1.59"/>
<ellipse cx="38" cy="0" rx="32.4" ry="41.2" stroke="#111" stroke-width="3.79"/>
<ellipse cx="38" cy="0" rx="32.4" ry="41.2" stroke="#fff" stroke-width="0.61"/>
<ellipse cx="17.2" cy="23.6" rx="1.5" ry="2.3" transform="rotate(-35 17.2 23.6)" fill="#fff" stroke="#111" stroke-width="1.59"/>
<ellipse cx="-65" cy="0" rx="11.6" ry="39.6" stroke="#fff" stroke-width="4"/>
<ellipse cx="-65" cy="0" rx="13.55" ry="41.2" transform="rotate(-0.8 -65 0)" stroke="#111" stroke-width="3.89"/>
<ellipse cx="-65" cy="0" rx="13.55" ry="41.2" transform="rotate(-0.8 -65 0)" stroke="#fff" stroke-width="0.71"/>
<ellipse cx="-64.9" cy="0" rx="9.9" ry="38.2" transform="rotate(2.6 -64.9 0)" stroke="#111" stroke-width="1.59"/>
<ellipse cx="65" cy="0" rx="11.6" ry="39.6" stroke="#fff" stroke-width="4"/>
<ellipse cx="65" cy="0" rx="13.55" ry="41.2" transform="rotate(0.8 65 0)" stroke="#111" stroke-width="3.89"/>
<ellipse cx="65" cy="0" rx="13.55" ry="41.2" transform="rotate(0.8 65 0)" stroke="#fff" stroke-width="0.71"/>
<ellipse cx="64.9" cy="0" rx="9.9" ry="38.2" transform="rotate(-2.6 64.9 0)" stroke="#111" stroke-width="1.59"/>
</g>
<rect x="581.4000000000001" y="698.6" width="3.6" height="209.89999999999998" fill="none" stroke="#111" stroke-width="1.1"/>
<path class="th" d="M581.4000000000001 744.3h3.6"/>
<path class="th" d="M581.4000000000001 809.3h3.6"/>
<path class="ln" stroke-width="1.15" d="M667.5 690V936"/>
<path class="k" d="M667.5 675.8l1.9 17h-3.8z M667.5 949l1.9-17h-3.8z"/>
<text class="b" font-size="13.5" transform="translate(674,738.3) rotate(90)" stroke="#1a1a1a" stroke-width="0.3" textLength="142.4" lengthAdjust="spacingAndGlyphs">min 35 cm ... max 120 cm</text>
<path class="ln" stroke-width="1.15" d="M524 981.4H642"/>
<path class="k" d="M511.8 981.4l17-1.8v3.6z M655.6 981.4l-17-1.8v3.6z"/>
<text class="b" x="562.7" y="974.9" font-size="13.4" textLength="41.5" lengthAdjust="spacingAndGlyphs">ø50 cm</text>
</g>
<g id="qr">
<text class="b" x="401.6" y="917.7" font-size="12.8" textLength="49.4" lengthAdjust="spacingAndGlyphs" stroke="#1a1a1a" stroke-width="0.35">713053</text>
<path class="k" d="M401.80 928.80h11.97v1.71h-11.97zM415.48 928.80h8.55v1.71h-8.55zM425.74 928.80h3.42v1.71h-3.42zM434.30 928.80h1.71v1.71h-1.71zM439.43 928.80h11.97v1.71h-11.97zM401.80 930.51h1.71v1.71h-1.71zM412.06 930.51h1.71v1.71h-1.71zM415.48 930.51h3.42v1.71h-3.42zM420.61 930.51h3.42v1.71h-3.42zM427.46 930.51h1.71v1.71h-1.71zM436.01 930.51h1.71v1.71h-1.71zM439.43 930.51h1.71v1.71h-1.71zM449.69 930.51h1.71v1.71h-1.71zM401.80 932.22h1.71v1.71h-1.71zM405.22 932.22h5.13v1.71h-5.13zM412.06 932.22h1.71v1.71h-1.71zM418.90 932.22h1.71v1.71h-1.71zM422.32 932.22h1.71v1.71h-1.71zM430.88 932.22h3.42v1.71h-3.42zM436.01 932.22h1.71v1.71h-1.71zM439.43 932.22h1.71v1.71h-1.71zM442.85 932.22h5.13v1.71h-5.13zM449.69 932.22h1.71v1.71h-1.71zM401.80 933.93h1.71v1.71h-1.71zM405.22 933.93h5.13v1.71h-5.13zM412.06 933.93h1.71v1.71h-1.71zM415.48 933.93h3.42v1.71h-3.42zM422.32 933.93h8.55v1.71h-8.55zM432.59 933.93h5.13v1.71h-5.13zM439.43 933.93h1.71v1.71h-1.71zM442.85 933.93h5.13v1.71h-5.13zM449.69 933.93h1.71v1.71h-1.71zM401.80 935.64h1.71v1.71h-1.71zM405.22 935.64h5.13v1.71h-5.13zM412.06 935.64h1.71v1.71h-1.71zM415.48 935.64h18.81v1.71h-18.81zM439.43 935.64h1.71v1.71h-1.71zM442.85 935.64h5.13v1.71h-5.13zM449.69 935.64h1.71v1.71h-1.71zM401.80 937.35h1.71v1.71h-1.71zM412.06 937.35h1.71v1.71h-1.71zM418.90 937.35h1.71v1.71h-1.71zM422.32 937.35h1.71v1.71h-1.71zM430.88 937.35h5.13v1.71h-5.13zM439.43 937.35h1.71v1.71h-1.71zM449.69 937.35h1.71v1.71h-1.71zM401.80 939.06h11.97v1.71h-11.97zM415.48 939.06h1.71v1.71h-1.71zM420.61 939.06h1.71v1.71h-1.71zM427.46 939.06h8.55v1.71h-8.55zM439.43 939.06h11.97v1.71h-11.97zM415.48 940.77h3.42v1.71h-3.42zM422.32 940.77h5.13v1.71h-5.13zM430.88 940.77h1.71v1.71h-1.71zM401.80 942.48h1.71v1.71h-1.71zM406.93 942.48h6.84v1.71h-6.84zM415.48 942.48h5.13v1.71h-5.13zM422.32 942.48h3.42v1.71h-3.42zM429.17 942.48h1.71v1.71h-1.71zM432.59 942.48h1.71v1.71h-1.71zM437.72 942.48h6.84v1.71h-6.84zM446.27 942.48h3.42v1.71h-3.42zM403.51 944.19h3.42v1.71h-3.42zM410.35 944.19h1.71v1.71h-1.71zM413.77 944.19h3.42v1.71h-3.42zM418.90 944.19h1.71v1.71h-1.71zM425.74 944.19h1.71v1.71h-1.71zM429.17 944.19h3.42v1.71h-3.42zM434.30 944.19h1.71v1.71h-1.71zM437.72 944.19h1.71v1.71h-1.71zM446.27 944.19h1.71v1.71h-1.71zM403.51 945.90h10.26v1.71h-10.26zM418.90 945.90h1.71v1.71h-1.71zM424.03 945.90h1.71v1.71h-1.71zM429.17 945.90h1.71v1.71h-1.71zM432.59 945.90h3.42v1.71h-3.42zM439.43 945.90h10.26v1.71h-10.26zM401.80 947.61h1.71v1.71h-1.71zM405.22 947.61h5.13v1.71h-5.13zM412.06 947.61h3.42v1.71h-3.42zM420.61 947.61h5.13v1.71h-5.13zM427.46 947.61h5.13v1.71h-5.13zM436.01 947.61h3.42v1.71h-3.42zM444.56 947.61h3.42v1.71h-3.42zM449.69 947.61h1.71v1.71h-1.71zM401.80 949.32h1.71v1.71h-1.71zM408.64 949.32h1.71v1.71h-1.71zM412.06 949.32h1.71v1.71h-1.71zM415.48 949.32h3.42v1.71h-3.42zM422.32 949.32h3.42v1.71h-3.42zM427.46 949.32h11.97v1.71h-11.97zM441.14 949.32h10.26v1.71h-10.26zM401.80 951.03h1.71v1.71h-1.71zM406.93 951.03h3.42v1.71h-3.42zM412.06 951.03h1.71v1.71h-1.71zM415.48 951.03h3.42v1.71h-3.42zM420.61 951.03h3.42v1.71h-3.42zM427.46 951.03h1.71v1.71h-1.71zM434.30 951.03h8.55v1.71h-8.55zM444.56 951.03h5.13v1.71h-5.13zM405.22 952.74h11.97v1.71h-11.97zM422.32 952.74h1.71v1.71h-1.71zM425.74 952.74h25.66v1.71h-25.66zM401.80 954.46h1.71v1.71h-1.71zM413.77 954.46h3.42v1.71h-3.42zM418.90 954.46h1.71v1.71h-1.71zM424.03 954.46h1.71v1.71h-1.71zM434.30 954.46h1.71v1.71h-1.71zM437.72 954.46h1.71v1.71h-1.71zM401.80 956.17h8.55v1.71h-8.55zM418.90 956.17h3.42v1.71h-3.42zM425.74 956.17h1.71v1.71h-1.71zM430.88 956.17h1.71v1.71h-1.71zM434.30 956.17h5.13v1.71h-5.13zM441.14 956.17h1.71v1.71h-1.71zM446.27 956.17h5.13v1.71h-5.13zM408.64 957.88h5.13v1.71h-5.13zM415.48 957.88h1.71v1.71h-1.71zM418.90 957.88h5.13v1.71h-5.13zM429.17 957.88h8.55v1.71h-8.55zM439.43 957.88h1.71v1.71h-1.71zM444.56 957.88h3.42v1.71h-3.42zM401.80 959.59h5.13v1.71h-5.13zM408.64 959.59h1.71v1.71h-1.71zM412.06 959.59h1.71v1.71h-1.71zM417.19 959.59h1.71v1.71h-1.71zM420.61 959.59h1.71v1.71h-1.71zM425.74 959.59h1.71v1.71h-1.71zM429.17 959.59h15.39v1.71h-15.39zM446.27 959.59h1.71v1.71h-1.71zM401.80 961.30h1.71v1.71h-1.71zM408.64 961.30h5.13v1.71h-5.13zM417.19 961.30h8.55v1.71h-8.55zM427.46 961.30h1.71v1.71h-1.71zM430.88 961.30h8.55v1.71h-8.55zM403.51 963.01h1.71v1.71h-1.71zM406.93 963.01h1.71v1.71h-1.71zM412.06 963.01h3.42v1.71h-3.42zM417.19 963.01h6.84v1.71h-6.84zM427.46 963.01h1.71v1.71h-1.71zM430.88 963.01h1.71v1.71h-1.71zM434.30 963.01h11.97v1.71h-11.97zM449.69 963.01h1.71v1.71h-1.71zM418.90 964.72h3.42v1.71h-3.42zM424.03 964.72h6.84v1.71h-6.84zM432.59 964.72h5.13v1.71h-5.13zM442.85 964.72h5.13v1.71h-5.13zM401.80 966.43h11.97v1.71h-11.97zM415.48 966.43h1.71v1.71h-1.71zM424.03 966.43h5.13v1.71h-5.13zM436.01 966.43h1.71v1.71h-1.71zM439.43 966.43h1.71v1.71h-1.71zM442.85 966.43h1.71v1.71h-1.71zM446.27 966.43h1.71v1.71h-1.71zM401.80 968.14h1.71v1.71h-1.71zM412.06 968.14h1.71v1.71h-1.71zM417.19 968.14h3.42v1.71h-3.42zM422.32 968.14h5.13v1.71h-5.13zM432.59 968.14h5.13v1.71h-5.13zM442.85 968.14h3.42v1.71h-3.42zM447.98 968.14h3.42v1.71h-3.42zM401.80 969.85h1.71v1.71h-1.71zM405.22 969.85h5.13v1.71h-5.13zM412.06 969.85h1.71v1.71h-1.71zM418.90 969.85h3.42v1.71h-3.42zM424.03 969.85h1.71v1.71h-1.71zM427.46 969.85h3.42v1.71h-3.42zM432.59 969.85h1.71v1.71h-1.71zM436.01 969.85h8.55v1.71h-8.55zM446.27 969.85h5.13v1.71h-5.13zM401.80 971.56h1.71v1.71h-1.71zM405.22 971.56h5.13v1.71h-5.13zM412.06 971.56h1.71v1.71h-1.71zM418.90 971.56h3.42v1.71h-3.42zM425.74 971.56h1.71v1.71h-1.71zM429.17 971.56h11.97v1.71h-11.97zM442.85 971.56h1.71v1.71h-1.71zM446.27 971.56h3.42v1.71h-3.42zM401.80 973.27h1.71v1.71h-1.71zM405.22 973.27h5.13v1.71h-5.13zM412.06 973.27h1.71v1.71h-1.71zM417.19 973.27h3.42v1.71h-3.42zM424.03 973.27h5.13v1.71h-5.13zM430.88 973.27h1.71v1.71h-1.71zM436.01 973.27h3.42v1.71h-3.42zM442.85 973.27h1.71v1.71h-1.71zM446.27 973.27h5.13v1.71h-5.13zM401.80 974.98h1.71v1.71h-1.71zM412.06 974.98h1.71v1.71h-1.71zM417.19 974.98h6.84v1.71h-6.84zM425.74 974.98h1.71v1.71h-1.71zM436.01 974.98h5.13v1.71h-5.13zM442.85 974.98h3.42v1.71h-3.42zM447.98 974.98h3.42v1.71h-3.42zM401.80 976.69h11.97v1.71h-11.97zM415.48 976.69h3.42v1.71h-3.42zM420.61 976.69h5.13v1.71h-5.13zM434.30 976.69h1.71v1.71h-1.71zM437.72 976.69h1.71v1.71h-1.71zM441.14 976.69h1.71v1.71h-1.71zM444.56 976.69h6.84v1.71h-6.84z"/>
</g>
<g id="foot" font-size="12.4" stroke="#1a1a1a" stroke-width="0.22">
<text x="149.6" y="1037" textLength="323" lengthAdjust="spacingAndGlyphs">1. Светильник работает от сетевого напряжения 230В.</text>
<text x="149.6" y="1054" textLength="419" lengthAdjust="spacingAndGlyphs">2. Всегда выключайте напряжение, когда устанавливаете светильник.</text>
</g>
</svg></body></html>
